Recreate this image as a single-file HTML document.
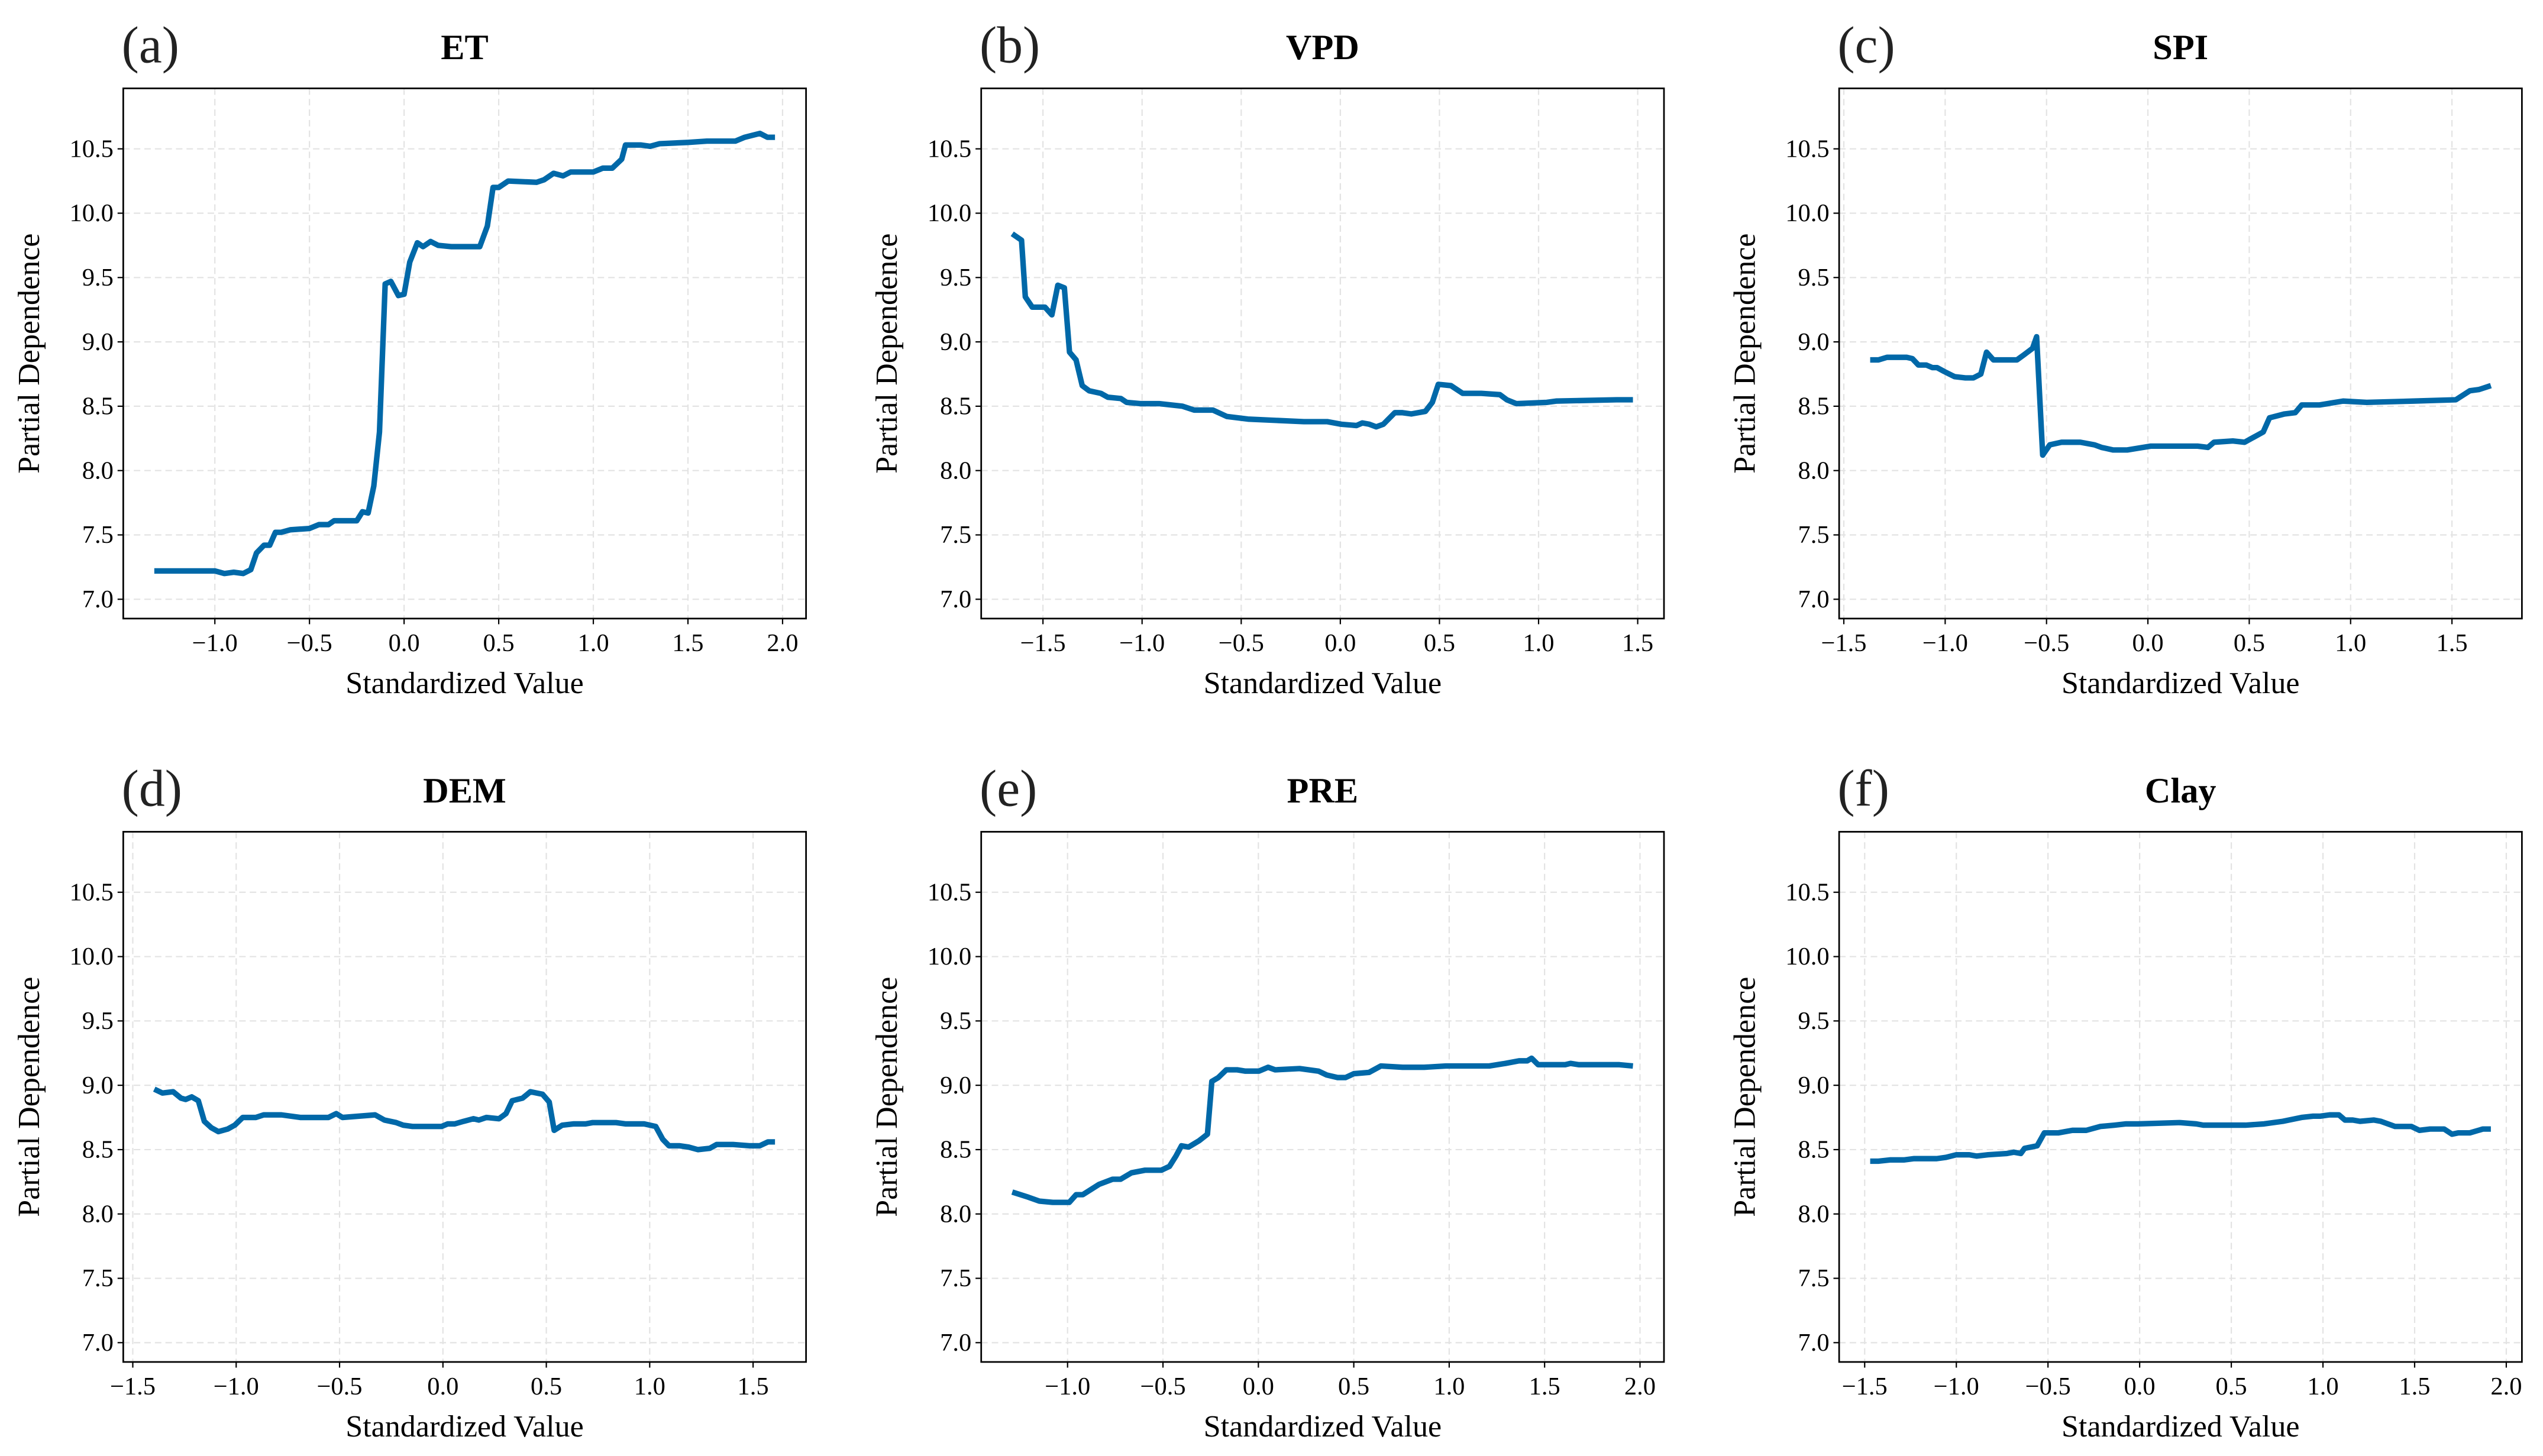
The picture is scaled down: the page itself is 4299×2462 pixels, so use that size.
<!DOCTYPE html>
<html><head><meta charset="utf-8"><style>
html,body{margin:0;padding:0;background:#fff;}
svg{display:block;font-family:"Liberation Serif",serif;}
</style></head><body>
<svg id="fig" width="4299" height="2462" viewBox="0 0 1568 898" preserveAspectRatio="none" xmlns="http://www.w3.org/2000/svg"></svg>
<script>
const panelTitles=["ET","VPD","SPI","DEM","PRE","Clay"];
const panelLetters=["(a)","(b)","(c)","(d)","(e)","(f)"];
const yTicks=[7.0,7.5,8.0,8.5,9.0,9.5,10.0,10.5];
const xET=[-1.32,-1.1,-1.0,-0.95,-0.9,-0.85,-0.81,-0.78,-0.74,-0.71,-0.68,-0.65,-0.6,-0.5,-0.45,-0.4,-0.37,-0.3,-0.25,-0.22,-0.19,-0.16,-0.13,-0.1,-0.07,-0.03,0.0,0.03,0.07,0.1,0.14,0.18,0.25,0.4,0.44,0.47,0.5,0.55,0.7,0.74,0.79,0.84,0.88,1.0,1.05,1.1,1.15,1.17,1.25,1.3,1.35,1.5,1.6,1.75,1.8,1.88,1.92,1.96];
const yET=[7.22,7.22,7.22,7.20,7.21,7.20,7.23,7.36,7.42,7.42,7.52,7.52,7.54,7.55,7.58,7.58,7.61,7.61,7.61,7.68,7.67,7.88,8.3,9.45,9.47,9.36,9.37,9.62,9.77,9.74,9.78,9.75,9.74,9.74,9.9,10.2,10.2,10.25,10.24,10.26,10.31,10.29,10.32,10.32,10.35,10.35,10.42,10.53,10.53,10.52,10.54,10.55,10.56,10.56,10.59,10.62,10.59,10.59];
const xVPD=[-1.655,-1.608,-1.589,-1.554,-1.49,-1.455,-1.425,-1.392,-1.366,-1.333,-1.302,-1.267,-1.208,-1.173,-1.107,-1.078,-1.008,-0.914,-0.796,-0.737,-0.643,-0.572,-0.466,-0.184,-0.066,0.005,0.082,0.111,0.146,0.181,0.217,0.275,0.311,0.358,0.429,0.464,0.494,0.558,0.617,0.711,0.805,0.84,0.888,1.041,1.088,1.394,1.476];
const yVPD=[9.84,9.79,9.35,9.27,9.27,9.21,9.44,9.42,8.92,8.86,8.66,8.62,8.60,8.57,8.56,8.53,8.52,8.52,8.50,8.47,8.47,8.42,8.40,8.38,8.38,8.36,8.35,8.37,8.36,8.34,8.36,8.45,8.45,8.44,8.46,8.53,8.67,8.66,8.60,8.60,8.59,8.55,8.52,8.53,8.54,8.55,8.55];
const xSPI=[-1.37,-1.329,-1.287,-1.19,-1.162,-1.132,-1.093,-1.063,-1.04,-1.005,-0.954,-0.90,-0.861,-0.824,-0.796,-0.762,-0.681,-0.646,-0.611,-0.569,-0.549,-0.519,-0.484,-0.426,-0.333,-0.264,-0.229,-0.171,-0.102,0.014,0.245,0.296,0.326,0.419,0.477,0.523,0.569,0.60,0.674,0.727,0.759,0.847,0.963,1.079,1.31,1.519,1.588,1.634,1.692];
const ySPI=[8.86,8.86,8.88,8.88,8.87,8.82,8.82,8.80,8.80,8.77,8.73,8.72,8.72,8.75,8.92,8.86,8.86,8.86,8.90,8.95,9.04,8.12,8.20,8.22,8.22,8.20,8.18,8.16,8.16,8.19,8.19,8.18,8.22,8.23,8.22,8.26,8.30,8.41,8.44,8.45,8.51,8.51,8.54,8.53,8.54,8.55,8.62,8.63,8.66];
const xDEM=[-1.396,-1.357,-1.305,-1.267,-1.244,-1.215,-1.183,-1.154,-1.12,-1.086,-1.041,-1.007,-0.968,-0.905,-0.867,-0.781,-0.69,-0.554,-0.516,-0.486,-0.328,-0.283,-0.226,-0.192,-0.147,-0.007,0.023,0.057,0.10,0.147,0.174,0.21,0.271,0.305,0.335,0.385,0.423,0.482,0.514,0.538,0.577,0.633,0.69,0.724,0.837,0.882,0.973,1.029,1.063,1.093,1.143,1.188,1.233,1.29,1.324,1.403,1.482,1.532,1.572,1.606];
const yDEM=[8.97,8.94,8.95,8.90,8.89,8.91,8.88,8.72,8.67,8.64,8.66,8.69,8.75,8.75,8.77,8.77,8.75,8.75,8.78,8.75,8.77,8.73,8.71,8.69,8.68,8.68,8.70,8.70,8.72,8.74,8.73,8.75,8.74,8.78,8.88,8.90,8.95,8.93,8.87,8.65,8.69,8.70,8.70,8.71,8.71,8.70,8.70,8.68,8.58,8.53,8.53,8.52,8.50,8.51,8.54,8.54,8.53,8.53,8.56,8.56];
const xPRE=[-1.29,-1.205,-1.148,-1.077,-0.991,-0.955,-0.92,-0.835,-0.764,-0.722,-0.665,-0.594,-0.509,-0.466,-0.432,-0.403,-0.366,-0.31,-0.267,-0.244,-0.21,-0.168,-0.111,-0.068,0.003,0.051,0.088,0.216,0.315,0.358,0.415,0.457,0.5,0.58,0.642,0.756,0.869,0.983,1.21,1.295,1.366,1.409,1.432,1.466,1.608,1.636,1.679,1.892,1.963];
const yPRE=[8.17,8.13,8.10,8.09,8.09,8.15,8.15,8.23,8.27,8.27,8.32,8.34,8.34,8.37,8.45,8.53,8.52,8.57,8.62,9.03,9.06,9.12,9.12,9.11,9.11,9.14,9.12,9.13,9.11,9.08,9.06,9.06,9.09,9.10,9.15,9.14,9.14,9.15,9.15,9.17,9.19,9.19,9.21,9.16,9.16,9.17,9.16,9.16,9.15];
const xClay=[-1.47,-1.426,-1.362,-1.286,-1.23,-1.107,-1.056,-1.0,-0.929,-0.89,-0.827,-0.724,-0.686,-0.648,-0.628,-0.559,-0.52,-0.444,-0.367,-0.291,-0.214,-0.138,-0.074,-0.01,0.219,0.309,0.347,0.577,0.679,0.781,0.883,0.946,0.985,1.036,1.087,1.12,1.163,1.202,1.278,1.316,1.393,1.482,1.526,1.584,1.661,1.704,1.737,1.801,1.872,1.916];
const yClay=[8.41,8.41,8.42,8.42,8.43,8.43,8.44,8.46,8.46,8.45,8.46,8.47,8.48,8.47,8.51,8.53,8.63,8.63,8.65,8.65,8.68,8.69,8.70,8.70,8.71,8.70,8.69,8.69,8.70,8.72,8.75,8.76,8.76,8.77,8.77,8.73,8.73,8.72,8.73,8.72,8.68,8.68,8.65,8.66,8.66,8.62,8.63,8.63,8.66,8.66];

const seriesX=[xET,xVPD,xSPI,xDEM,xPRE,xClay];
const seriesY=[yET,yVPD,ySPI,yDEM,yPRE,yClay];
const NS="http://www.w3.org/2000/svg";
const svg=document.getElementById('fig');
function mk(tag,attrs,parent){const e=document.createElementNS(NS,tag);for(const k in attrs)e.setAttribute(k,attrs[k]);(parent||svg).appendChild(e);return e;}
let gmin=Infinity,gmax=-Infinity;
seriesY.forEach(a=>a.forEach(v=>{gmin=Math.min(gmin,v);gmax=Math.max(gmax,v);}));
const y0=gmin-0.35,y1=gmax+0.35;
const colL=[76,605,1134],W=421,rowT=[54.5,513],H=327;
const fmt=v=>(v<0?"\u2212":"")+Math.abs(v).toFixed(1);
for(let p=0;p<6;p++){
  const L=colL[p%3],T=rowT[Math.floor(p/3)],R=L+W,B=T+H;
  const xs=seriesX[p],ys=seriesY[p];
  const mn=Math.min(...xs),mx=Math.max(...xs),pad=(mx-mn)*0.05;
  const x0=mn-pad,x1=mx+pad;
  const X=v=>L+(v-x0)/(x1-x0)*W, Y=v=>B-(v-y0)/(y1-y0)*H;
  const g=mk('g',{});
  
  
  // grid
  const xt=[];for(let t=Math.ceil(x0*2)/2;t<=x1+1e-9;t+=0.5)xt.push(Math.round(t*10)/10);
  xt.forEach(t=>{const l=mk('line',{x1:X(t),x2:X(t),y1:T,y2:B,stroke:'#e3e3e3','stroke-width':0.8,'stroke-dasharray':'4,2.5'},g);
    });
  yTicks.forEach(t=>{const l=mk('line',{x1:L,x2:R,y1:Y(t),y2:Y(t),stroke:'#e3e3e3','stroke-width':0.8,'stroke-dasharray':'4,2.5'},g);
    });
  // line
  const d=xs.map((v,i)=>(i?'L':'M')+X(v).toFixed(2)+','+Y(ys[i]).toFixed(2)).join('');
  const path=mk('path',{d:d,fill:'none',stroke:'#0068a8','stroke-width':3.4,'stroke-linejoin':'round','stroke-linecap':'butt'},g);
  
  // frame
  const fr=mk('rect',{x:L,y:T,width:W,height:H,fill:'none',stroke:'#000','stroke-width':1},g);
  
  // ticks
  xt.forEach(t=>{mk('line',{x1:X(t),x2:X(t),y1:B,y2:B+3.5,stroke:'#000','stroke-width':0.8},g);
    const tx=mk('text',{x:X(t),y:B+20,'text-anchor':'middle','font-size':15.5,fill:'#000'},g);tx.textContent=fmt(t);
    });
  yTicks.forEach(t=>{mk('line',{x1:L-3.5,x2:L,y1:Y(t),y2:Y(t),stroke:'#000','stroke-width':0.8},g);
    const tx=mk('text',{x:L-6,y:Y(t)+5,'text-anchor':'end','font-size':15.5,fill:'#000'},g);tx.textContent=t.toFixed(1);
    });
  const xl=mk('text',{x:L+W/2,y:B+46,'text-anchor':'middle','font-size':19,fill:'#000'},g);xl.textContent='Standardized Value';
  
  const yl=mk('text',{x:0,y:0,'text-anchor':'middle','font-size':19,fill:'#000',transform:`translate(${L-52},${T+H/2}) rotate(-90)`},g);yl.textContent='Partial Dependence';
  
  const tt=mk('text',{x:L+W/2,y:T-18,'text-anchor':'middle','font-size':22,'font-weight':'bold',fill:'#000'},g);tt.textContent=panelTitles[p];
  
  const lt=mk('text',{x:L-1,y:T-16,'font-size':32,fill:'#222'},g);lt.textContent=panelLetters[p];
  
}
</script>
</body></html>
